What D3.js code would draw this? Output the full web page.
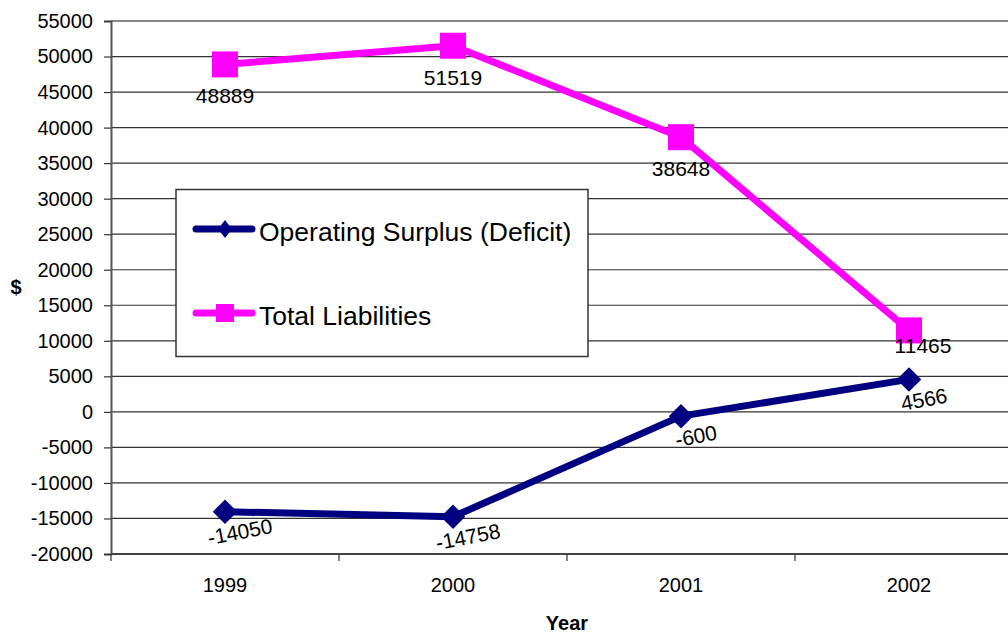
<!DOCTYPE html>
<html lang="en">
<head>
<meta charset="UTF-8">
<title>Operating Surplus and Total Liabilities</title>
<script src="https://d3js.org/d3.v7.min.js"></script>
<style>
    body { margin: 0; background: #fff; }
    svg { display: block; font-family: 'Liberation Sans', Arial, sans-serif; }
</style>
</head>
<body>
<div id="chart"></div>
<script>
    const years = ["1999", "2000", "2001", "2002"];
    const surplus = [-14050, -14758, -600, 4566];
    const liabilities = [48889, 51519, 38648, 11465];
    const yTicks = [-20000, -15000, -10000, -5000, 0, 5000, 10000, 15000, 20000, 25000, 30000, 35000, 40000, 45000, 50000, 55000];
    const seriesNames = ["Operating Surplus (Deficit)", "Total Liabilities"];

    const width = 1008, height = 633;
    const plotLeft = 111, plotTop = 21, plotBottom = 554, plotRight = 1023;

    const svg = d3.select("#chart").append("svg")
        .attr("width", width).attr("height", height);

    const x = d3.scalePoint().domain(years).range([plotLeft, plotRight]).padding(0.5);
    const xb = d3.scaleBand().domain(years).range([plotLeft, plotRight]);
    const y = d3.scaleLinear().domain([-20000, 55000]).range([plotBottom, plotTop]);

    // grid
    svg.append("g").selectAll("line")
        .data(yTicks.filter(d => d > -20000 && d < 55000))
        .enter().append("line")
        .attr("x1", plotLeft).attr("x2", width)
        .attr("y1", d => y(d)).attr("y2", d => y(d))
        .attr("stroke", "#333").attr("stroke-width", 1.2);

    // top border
    svg.append("line")
        .attr("x1", plotLeft).attr("x2", width)
        .attr("y1", y(55000)).attr("y2", y(55000))
        .attr("stroke", "#888").attr("stroke-width", 2);

    // y axis
    const yAxis = svg.append("g")
        .attr("transform", `translate(${plotLeft},0)`)
        .call(d3.axisLeft(y).tickValues(yTicks).tickSize(7).tickPadding(11).tickFormat(d => String(d)));
    yAxis.select(".domain").attr("stroke", "#555").attr("stroke-width", 2);
    yAxis.selectAll(".tick line").attr("stroke", "#333").attr("stroke-width", 1.2);
    yAxis.selectAll(".tick text").attr("font-size", 20).attr("fill", "#000")
        .attr("font-family", "'Liberation Sans', Arial, sans-serif");

    // x axis
    const xAxis = svg.append("g")
        .attr("transform", `translate(0,${plotBottom})`);
    xAxis.append("line").attr("x1", plotLeft).attr("x2", width)
        .attr("stroke", "#444").attr("stroke-width", 2);
    xAxis.selectAll(".tk")
        .data(years.map(d => xb(d)).concat([xb(years[years.length - 1]) + xb.bandwidth()]))
        .enter().append("line")
        .attr("x1", d => d).attr("x2", d => d)
        .attr("y1", 0).attr("y2", 7)
        .attr("stroke", "#333").attr("stroke-width", 1.2);
    xAxis.selectAll(".lbl")
        .data(years).enter().append("text")
        .attr("x", d => x(d)).attr("y", 38)
        .attr("text-anchor", "middle").attr("font-size", 20)
        .text(d => d);

    // axis titles
    svg.append("text").attr("x", 16).attr("y", 294)
        .attr("text-anchor", "middle").attr("font-size", 20).attr("font-weight", "bold")
        .text("$");
    svg.append("text").attr("x", 567).attr("y", 630)
        .attr("text-anchor", "middle").attr("font-size", 20).attr("font-weight", "bold")
        .text("Year");

    const line = d3.line().x((d, i) => x(years[i])).y(d => y(d));

    // liabilities series
    svg.append("path").datum(liabilities)
        .attr("d", line).attr("fill", "none")
        .attr("stroke", "#ff00ff").attr("stroke-width", 7).attr("stroke-linejoin", "round");
    svg.selectAll(".sq").data(liabilities).enter().append("rect")
        .attr("x", (d, i) => x(years[i]) - 13).attr("y", d => y(d) - 13)
        .attr("width", 26).attr("height", 26).attr("fill", "#ff00ff");

    // surplus series
    svg.append("path").datum(surplus)
        .attr("d", line).attr("fill", "none")
        .attr("stroke", "#000080").attr("stroke-width", 7).attr("stroke-linejoin", "round");
    svg.selectAll(".dm").data(surplus).enter().append("path")
        .attr("d", d3.symbol().type(d3.symbolSquare).size(300))
        .attr("transform", (d, i) => `translate(${x(years[i])},${y(d)}) rotate(45)`)
        .attr("fill", "#000080");

    // data labels
    const liabOffset = [[0, 39], [0, 39], [0, 39], [14, 23]];
    svg.selectAll(".ll").data(liabilities).enter().append("text")
        .attr("x", (d, i) => x(years[i]) + liabOffset[i][0])
        .attr("y", (d, i) => y(d) + liabOffset[i][1])
        .attr("text-anchor", "middle").attr("font-size", 21)
        .text(d => d);

    svg.selectAll(".sl").data(surplus).enter().append("text")
        .attr("transform", (d, i) => `translate(${x(years[i]) + 15},${y(d) + 20}) rotate(-11)`)
        .attr("text-anchor", "middle").attr("dy", "0.35em").attr("font-size", 21)
        .text(d => d);

    // legend
    const lg = svg.append("g");
    lg.append("rect").attr("x", 176).attr("y", 189.5)
        .attr("width", 412).attr("height", 167)
        .attr("fill", "#fff").attr("stroke", "#333").attr("stroke-width", 1.5);
    const legColors = ["#000080", "#ff00ff"];
    const legY = [229, 313];
    seriesNames.forEach((name, i) => {
        lg.append("line").attr("x1", 196).attr("x2", 252)
            .attr("y1", legY[i]).attr("y2", legY[i])
            .attr("stroke", legColors[i]).attr("stroke-width", 7).attr("stroke-linecap", "round");
        if (i === 0) {
            lg.append("path")
                .attr("d", "M0,-9L7,0L0,9L-7,0Z")
                .attr("transform", `translate(225,${legY[i]})`)
                .attr("fill", legColors[i]);
        } else {
            lg.append("rect").attr("x", 216).attr("y", legY[i] - 9)
                .attr("width", 18).attr("height", 18).attr("fill", legColors[i]);
        }
        lg.append("text").attr("x", 259).attr("y", legY[i] + 12)
            .attr("font-size", 26.5).text(name);
    });
</script>
</body>
</html>
